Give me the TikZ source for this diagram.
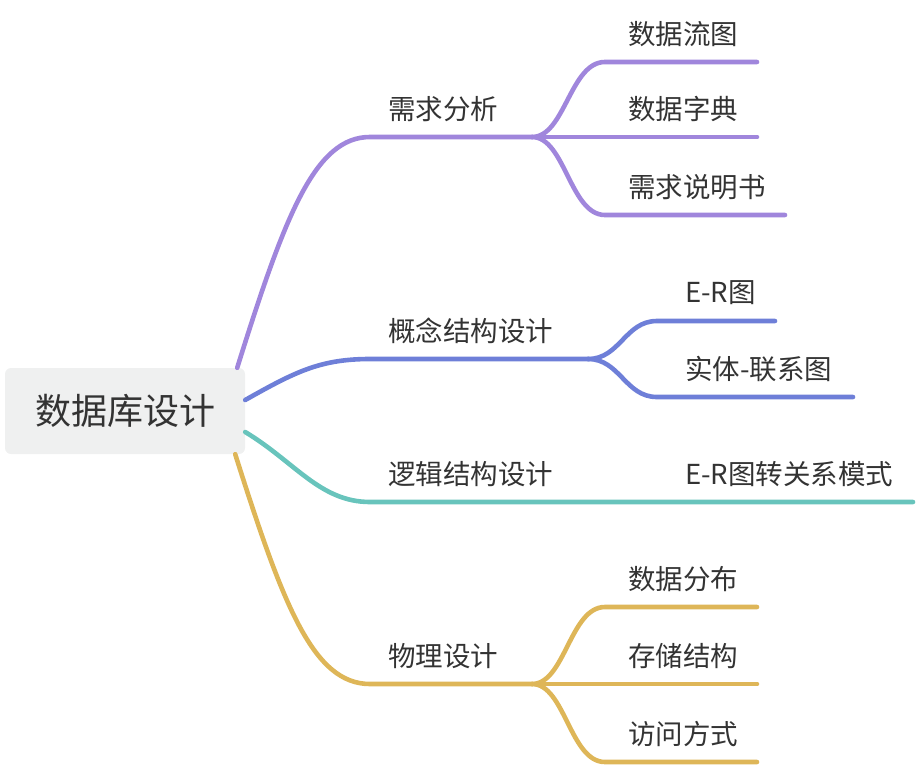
\documentclass[tikz,border=0pt]{standalone}
\usepackage{fontspec}
\setmainfont{Noto Sans CJK SC}
\usetikzlibrary{calc}
\definecolor{mpurple}{RGB}{160,134,220}
\definecolor{mblue}{RGB}{110,127,216}
\definecolor{mteal}{RGB}{104,196,188}
\definecolor{myellow}{RGB}{222,182,88}
\definecolor{mtext}{RGB}{51,51,51}
\definecolor{mroot}{RGB}{239,240,240}

\begin{document}
\begin{tikzpicture}[x=1pt,y=-1pt,
    branch/.style={line width=4.6pt,line cap=round},
    topic/.style={anchor=west,inner sep=0pt,text=mtext,font=\fontsize{27.5}{32}\selectfont},
    subtopic/.style={topic}]
                \useasboundingbox (0,0) rectangle (918,766);
                % Root
                \node[fill=mroot,rounded corners=6pt,minimum width=240pt,minimum height=86pt,
                    inner sep=0pt,text=mtext,font=\fontsize{36}{42}\selectfont] (root) at (125,411) {数据库设计};
                % Forks
                \coordinate (f1) at (532,137);
                \coordinate (f2) at (588,359);
                \coordinate (f4) at (532,684);
                \coordinate (e3) at (913,502);
                % Main branches
                \draw[branch,mpurple] ($(root.north east)+(-8,0)$) .. controls (285,215) and (315,137) .. (370,137) -- (f1);
                \draw[branch,mblue] ($(root.east)+(0,-11)$) .. controls (295,372) and (320,359) .. (370,359) -- (f2);
                \draw[branch,mteal] ($(root.east)+(0,21)$) .. controls (295,462) and (320,502) .. (370,502) -- (e3);
                \draw[branch,myellow] ($(root.south east)+(-10,0)$) .. controls (283,605) and (313,684) .. (370,684) -- (f4);
                \node[topic] (n1) at (388,109) {需求分析};
                \node[topic] (n2) at (388,331) {概念结构设计};
                \node[topic] (n3) at (388,474) {逻辑结构设计};
                \node[topic] (n4) at (388,656) {物理设计};
                \node[subtopic] (t31) at (685,474) {E-R图转关系模式};
                % Sub branches
                \foreach \i/\y/\xe/\t in {1/62/757/数据流图, 2/137/757/数据字典, 3/215/785/需求说明书} {
                    \coordinate (p1\i) at (\xe,\y);
                    \draw[branch,mpurple] (f1) .. controls ($(f1)+(33,0)$) and (570,\y) .. (605,\y) -- (p1\i);
                    \node[subtopic] (t1\i) at (628,\y-28) {\t};
                }
                \foreach \i/\y/\xe/\t in {1/321/775/E-R图, 2/397/853/实体-联系图} {
                    \coordinate (p2\i) at (\xe,\y);
                    \draw[branch,mblue] (f2) .. controls ($(f2)+(32,0)$) and (625,\y) .. (657,\y) -- (p2\i);
                    \node[subtopic] (t2\i) at (685,\y-28) {\t};
                }
                \foreach \i/\y/\xe/\t in {1/607/757/数据分布, 2/684/757/存储结构, 3/762/757/访问方式} {
                    \coordinate (p4\i) at (\xe,\y);
                    \draw[branch,myellow] (f4) .. controls ($(f4)+(33,0)$) and (570,\y) .. (605,\y) -- (p4\i);
                    \node[subtopic] (t4\i) at (628,\y-28) {\t};
                }
            \end{tikzpicture}
\end{document}
